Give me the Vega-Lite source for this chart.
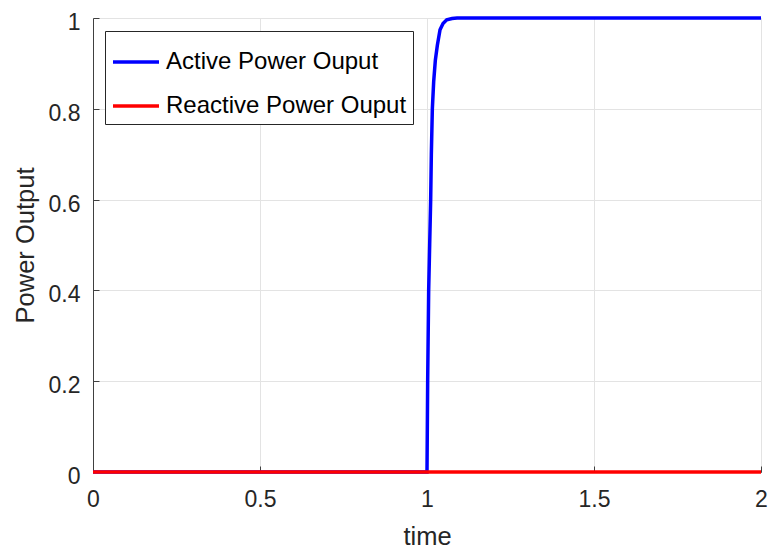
{
  "$schema": "https://vega.github.io/schema/vega-lite/v6.json",
  "width": 668,
  "height": 454,
  "autosize": {"type": "none"},
  "padding": {"left": 93, "top": 18, "right": 11, "bottom": 78},
  "background": "white",
  "config": {
    "view": {"stroke": null},
    "font": "Liberation Sans",
    "axis": {
      "domainColor": "#404040",
      "domainWidth": 1,
      "tickColor": "#404040",
      "tickSize": -6,
      "tickWidth": 1,
      "grid": true,
      "gridColor": "#e3e3e3",
      "gridWidth": 1,
      "labelFontSize": 23,
      "labelColor": "#262626",
      "labelFlush": false,
      "titleFontSize": 25.5,
      "titleFontWeight": "normal",
      "titleColor": "#262626"
    },
    "legend": {
      "orient": "none",
      "legendX": 12,
      "legendY": 13,
      "padding": 6,
      "strokeColor": "#262626",
      "strokeWidth": 1,
      "fillColor": "white",
      "cornerRadius": 0,
      "symbolType": "stroke",
      "symbolSize": 2116,
      "symbolStrokeWidth": 3.5,
      "labelFontSize": 24,
      "labelColor": "#000000",
      "labelOffset": 5,
      "labelLimit": 0,
      "rowPadding": 7
    }
  },
  "datasets": {
    "active": [
      {"time": 0, "value": 0, "series": "Active Power Ouput"},
      {"time": 1.0, "value": 0, "series": "Active Power Ouput"},
      {"time": 1.002, "value": 0.2, "series": "Active Power Ouput"},
      {"time": 1.005, "value": 0.4, "series": "Active Power Ouput"},
      {"time": 1.008, "value": 0.5, "series": "Active Power Ouput"},
      {"time": 1.011, "value": 0.6, "series": "Active Power Ouput"},
      {"time": 1.013, "value": 0.7, "series": "Active Power Ouput"},
      {"time": 1.016, "value": 0.8, "series": "Active Power Ouput"},
      {"time": 1.02, "value": 0.86, "series": "Active Power Ouput"},
      {"time": 1.025, "value": 0.907, "series": "Active Power Ouput"},
      {"time": 1.031, "value": 0.94, "series": "Active Power Ouput"},
      {"time": 1.039, "value": 0.974, "series": "Active Power Ouput"},
      {"time": 1.048, "value": 0.988, "series": "Active Power Ouput"},
      {"time": 1.059, "value": 0.996, "series": "Active Power Ouput"},
      {"time": 1.075, "value": 0.999, "series": "Active Power Ouput"},
      {"time": 1.09, "value": 1.0, "series": "Active Power Ouput"},
      {"time": 2, "value": 1.0, "series": "Active Power Ouput"}
    ],
    "reactive": [
      {"time": 0, "value": 0, "series": "Reactive Power Ouput"},
      {"time": 2, "value": 0, "series": "Reactive Power Ouput"}
    ]
  },
  "encoding": {
    "x": {
      "field": "time",
      "type": "quantitative",
      "scale": {"domain": [0, 2], "nice": false, "zero": false},
      "axis": {"title": "time", "values": [0, 0.5, 1, 1.5, 2], "format": "~g", "labelPadding": 22, "titlePadding": 13}
    },
    "y": {
      "field": "value",
      "type": "quantitative",
      "scale": {"domain": [0, 1], "nice": false},
      "axis": {"title": "Power Output", "values": [0, 0.2, 0.4, 0.6, 0.8, 1], "format": "~g", "labelPadding": 19, "labelOffset": 4.5, "titlePadding": 10}
    },
    "color": {
      "field": "series",
      "type": "nominal",
      "scale": {"domain": ["Active Power Ouput", "Reactive Power Ouput"], "range": ["#0000ff", "#ff0000"]},
      "legend": {"title": null}
    }
  },
  "layer": [
    {"data": {"name": "active"}, "mark": {"type": "line", "strokeWidth": 3.5, "clip": false}},
    {"data": {"name": "reactive"}, "mark": {"type": "line", "strokeWidth": 3.5, "clip": false}}
  ]
}
